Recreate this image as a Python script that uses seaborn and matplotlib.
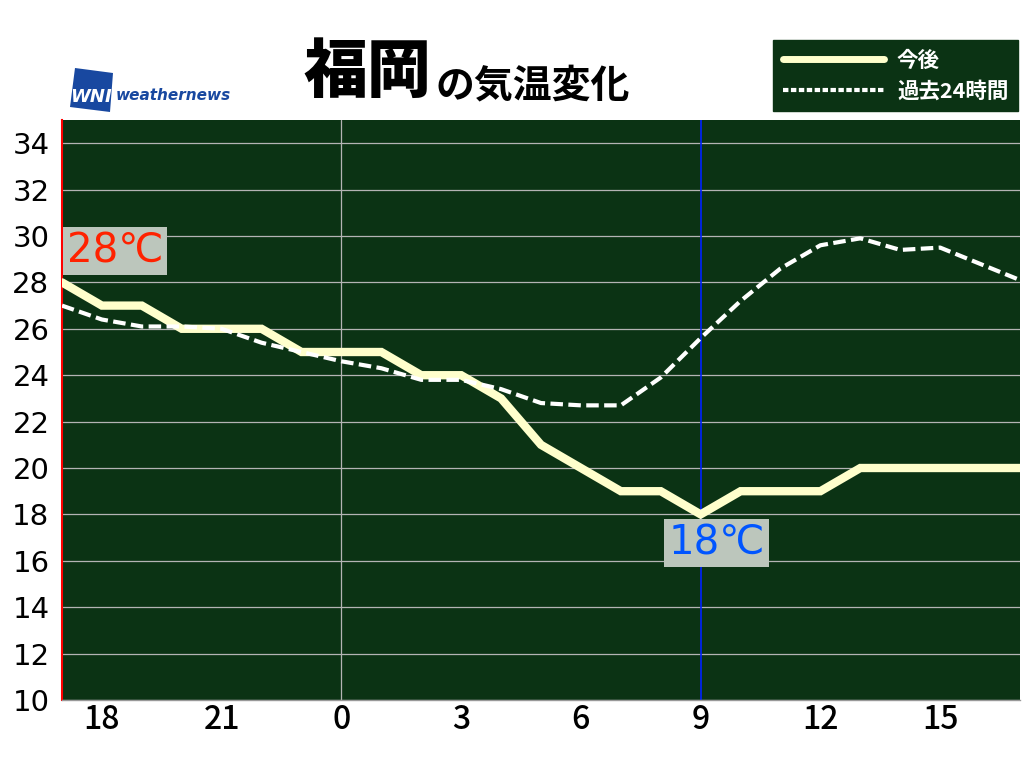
import matplotlib
matplotlib.use('Agg')
import matplotlib.pyplot as plt
import seaborn as sns
import pandas as pd
from matplotlib.patches import Polygon
from matplotlib.lines import Line2D
from matplotlib.transforms import ScaledTranslation

# hours 17 .. 17 next day (24 = midnight)
hours = list(range(17, 42))
forecast = [28, 27, 27, 26, 26, 26, 25, 25, 25, 24, 24, 23, 21,
            20, 19, 19, 18, 19, 19, 19, 20, 20, 20, 20, 20]
past = [27.0, 26.4, 26.1, 26.1, 26.0, 25.4, 25.0, 24.6, 24.3, 23.8, 23.8, 23.4, 22.8,
        22.7, 22.7, 23.9, 25.6, 27.2, 28.6, 29.6, 29.9, 29.4, 29.5, 28.8, 28.1]
xtick_pos = [18, 21, 24, 27, 30, 33, 36, 39]
xtick_labels = ['18', '21', '0', '3', '6', '9', '12', '15']
yticks = list(range(10, 35, 2))

BG = '#0b3314'
CREAM = '#ffffcc'

sns.set_style('white')
plt.rcParams['font.family'] = ['Noto Sans CJK JP', 'DejaVu Sans']
plt.rcParams['text.color'] = 'black'

df = pd.DataFrame({'hour': hours, 'forecast': forecast, 'past': past})

fig = plt.figure(figsize=(10.24, 7.68), dpi=100)
ax = fig.add_axes([62 / 1024, 68 / 768, 958 / 1024, 580 / 768])
ax.set_facecolor(BG)

sns.lineplot(data=df, x='hour', y='forecast', ax=ax, color=CREAM, lw=6,
             solid_joinstyle='miter', zorder=3)
sns.lineplot(data=df, x='hour', y='past', ax=ax, color='white', lw=3,
             linestyle=(0, (3, 1.3)), zorder=4)

ax.set_xlim(17, 41)
ax.set_ylim(10, 35)
ax.set_yticks(yticks)
ax.set_yticklabels([str(v) for v in yticks], fontsize=21, color='black',
                   fontfamily='DejaVu Sans')
ax.set_xticks(xtick_pos)
ax.set_xticklabels(xtick_labels, fontsize=23, color='black', fontweight='medium')
for lab in ax.get_xticklabels():
    lab.set_transform(lab.get_transform() + ScaledTranslation(6 / 100, 0, fig.dpi_scale_trans))
ax.tick_params(length=0)
ax.tick_params(axis='y', pad=9)
ax.tick_params(axis='x', pad=3)
ax.set_xlabel('')
ax.set_ylabel('')

ax.grid(axis='y', color='#b4b4b4', lw=0.9)
ax.grid(axis='x', visible=False)
ax.axvline(24, color='#b4b4b4', lw=0.9, zorder=1)
ax.axvline(33, color='#0022ff', lw=1.2, zorder=2)
for s in ['top', 'right']:
    ax.spines[s].set_visible(False)
ax.spines['left'].set_color('#ff0000')
ax.spines['left'].set_linewidth(1.5)
ax.spines['bottom'].set_color('#999999')
ax.spines['bottom'].set_linewidth(1)

# min / max labels
ax.text(18.33, 29.35, '28℃', color='#ff2200', fontsize=29, family='DejaVu Sans',
        ha='center', va='center', zorder=5,
        bbox=dict(boxstyle='square,pad=0.1', fc='#bcc6bc', ec='none'))
ax.text(33.4, 16.75, '18℃', color='#0055ff', fontsize=29, family='DejaVu Sans',
        ha='center', va='center', zorder=5,
        bbox=dict(boxstyle='square,pad=0.1', fc='#bcc6bc', ec='none'))

# title
fig.text(303 / 1024, 1 - 73 / 768, '福岡', fontsize=46, weight='black', va='center', ha='left')
fig.text(436 / 1024, 1 - 86 / 768, 'の気温変化', fontsize=28, weight='bold', va='center', ha='left')

# logo
pts = [(75, 68), (113, 73), (110, 112), (70, 107)]
fig.patches.append(Polygon([(x / 1024, 1 - y / 768) for x, y in pts], closed=True,
                           fc='#1848a0', ec='none', transform=fig.transFigure))
fig.text(91 / 1024, 1 - 97 / 768, 'WNI', color='white', fontsize=13, weight='bold',
         style='italic', ha='center', va='center', family='DejaVu Sans')
fig.text(116 / 1024, 1 - 96 / 768, 'weathernews', color='#1848a0', fontsize=11,
         weight='bold', style='italic', ha='left', va='center', family='DejaVu Sans')

# legend
handles = [Line2D([], [], color=CREAM, lw=5),
           Line2D([], [], color='white', lw=3, linestyle=(0, (1.3, 0.6)))]
leg = fig.legend(handles, ['今後', '過去24時間'], loc='upper right',
                 bbox_to_anchor=(1018 / 1024, 1 - 40 / 768), frameon=True,
                 facecolor=BG, edgecolor=BG, framealpha=1, fancybox=False,
                 labelcolor='white', fontsize=15.5, handlelength=4.7,
                 handletextpad=0.6, borderpad=0.45, labelspacing=0.45,
                 borderaxespad=0)
for t in leg.get_texts():
    t.set_fontweight('bold')

fig.savefig('out.png', dpi=100, facecolor='white')
